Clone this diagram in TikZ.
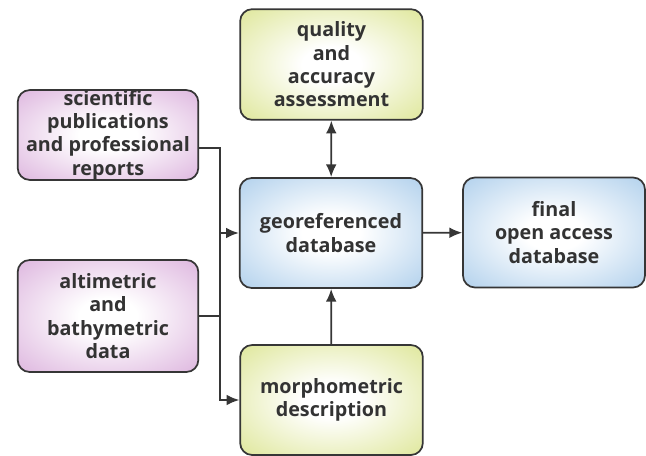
\documentclass[tikz,border=0pt]{standalone}
\usepackage{fontspec}
\newfontfamily\boxfont{Open Sans}
\usepackage{xcolor}
\usepackage{tikz}
\usetikzlibrary{positioning,calc,arrows.meta}

\definecolor{purpleout}{HTML}{C98CCB}
\definecolor{purplemid}{HTML}{E2C0E3}
\definecolor{limeout}{HTML}{CCD96A}
\definecolor{limemid}{HTML}{E3EAA8}
\definecolor{blueout}{HTML}{88B9E4}
\definecolor{bluemid}{HTML}{BCD7EF}
\definecolor{edgegray}{HTML}{363636}
\definecolor{textgray}{HTML}{333333}

\pgfdeclareradialshading{purpleglow}{\pgfpoint{0bp}{0bp}}{color(0bp)=(white); color(8bp)=(white); color(32bp)=(purplemid); color(50bp)=(purpleout)}
\pgfdeclareradialshading{limeglow}{\pgfpoint{0bp}{0bp}}{color(0bp)=(white); color(8bp)=(white); color(32bp)=(limemid); color(50bp)=(limeout)}
\pgfdeclareradialshading{blueglow}{\pgfpoint{0bp}{0bp}}{color(0bp)=(white); color(8bp)=(white); color(32bp)=(bluemid); color(50bp)=(blueout)}

\tikzset{
    box/.style={draw=edgegray, line width=1.3pt, rounded corners=9pt, align=center,
        text=textgray, font=\boxfont\bfseries\fontsize{14.8}{17.5}\selectfont,
        inner sep=0pt},
    srcbox/.style={box, shading=purpleglow, minimum width=135.5pt},
    checkbox/.style={box, shading=limeglow, minimum width=137pt},
    dbbox/.style={box, shading=blueglow, minimum width=137pt, minimum height=82.5pt},
    conn/.style={draw=edgegray, line width=1.3pt},
    tip/.style={-{Latex[length=9.5pt,width=8pt]}}
}

\begin{document}
\begin{tikzpicture}[x=0.75pt, y=-0.75pt]
    % Frame
    \useasboundingbox (0,0) rectangle (646,456);

    % Sources
    \node[srcbox, minimum height=63.5pt] (sci) at (108,135) {scientific\\publications\\and professional\\reports};
    \node[srcbox, minimum height=84pt] (alt) at (108,316) {altimetric\\and\\bathymetric\\data};

    % Checks
    \node[checkbox, minimum height=83pt] (qual) at (331.5,64.5) {quality\\and\\accuracy\\assessment};
    \node[checkbox, minimum height=82.5pt] (morph) at (331.5,400) {morphometric\\description};

    % Databases
    \node[dbbox] (geo) at (331,233) {georeferenced\\database};
    \node[dbbox, minimum width=136.5pt] (final) at (554,232.5) {final\\open access\\database};

    % Bus line
    \coordinate (bus) at (220,0);
    \draw[conn, tip] ([yshift=-9.75pt]sci.east) -| (bus |- morph.west) -- (morph.west);
    \draw[conn] (alt.east) -- (bus |- alt.east);
    \draw[conn, tip] (bus |- geo.west) -- (geo.west);

    % Links between boxes
    \draw[conn, {Latex[length=9.5pt,width=8pt]}-{Latex[length=9.5pt,width=8pt]}] (qual) -- (geo);
    \draw[conn, tip] (morph) -- (geo);
    \draw[conn, tip] (geo) -- (final);
\end{tikzpicture}
\end{document}
